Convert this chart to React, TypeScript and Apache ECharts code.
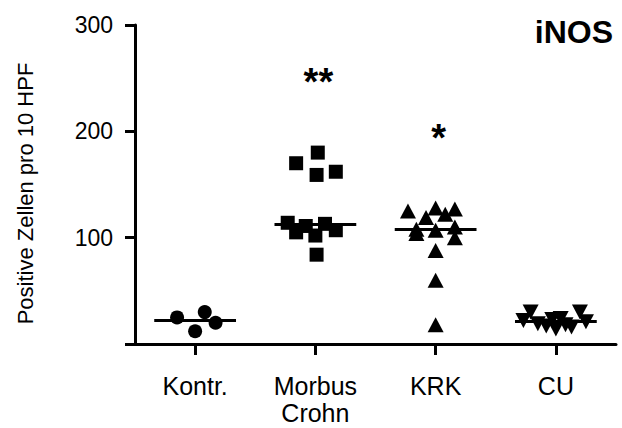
import { useEffect, useRef } from 'react';
import * as echarts from 'echarts';

// Groups along the x axis
const groups = ['Kontr.', 'Morbus\nCrohn', 'KRK', 'CU'];

// Positive cells per 10 HPF; the *Spread arrays give each point's sideways
// placement inside its column (in column widths, 0 = column centre)
const kontrValues = [25, 30, 20, 12];
const kontrSpread = [-0.15, 0.08, 0.17, 0];

const crohnValues = [180, 170, 159, 162, 114, 105, 111, 102, 113, 107, 84];
const crohnSpread = [0.02, -0.16, 0.01, 0.17, -0.23, -0.16, -0.08, 0, 0.08, 0.17, 0.01];

const krkValues = [125, 119, 128, 122, 127, 108, 104, 107, 110, 100, 88, 60, 18];
const krkSpread = [-0.23, -0.08, 0, 0.08, 0.16, -0.16, -0.16, 0, 0.16, 0.16, 0, 0, 0];

const cuValues = [30, 22, 19, 17, 23, 14, 24, 18, 16, 30, 21];
const cuSpread = [-0.21, -0.27, -0.15, -0.08, -0.03, 0, 0.04, 0.08, 0.13, 0.2, 0.25];

// Significance marks above each group
const significance = ['', '**', '*', ''];

// Y axis
const yTicks = [0, 100, 200, 300];
const yTitle = 'Positive Zellen pro 10 HPF';
const chartTitle = 'iNOS';

const FONT = '"Liberation Sans", Arial, Helvetica, sans-serif';

const median = (arr: number[]) => {
  const s = [...arr].sort((a, b) => a - b);
  const m = Math.floor(s.length / 2);
  return s.length % 2 ? s[m] : (s[m - 1] + s[m]) / 2;
};

export default function App() {
  const ref = useRef<HTMLDivElement>(null);

  useEffect(() => {
    if (!ref.current) return;
    const chart = echarts.init(ref.current, null, { renderer: 'svg' });

    const columns = [
      { values: kontrValues, spread: kontrSpread, symbol: 'circle', size: 14, rotate: 0 },
      { values: crohnValues, spread: crohnSpread, symbol: 'rect', size: 14, rotate: 0 },
      { values: krkValues, spread: krkSpread, symbol: 'triangle', size: [16, 15], rotate: 0 },
      { values: cuValues, spread: cuSpread, symbol: 'triangle', size: [16, 15], rotate: 180 },
    ];
    const halfLine = 0.34;
    const starLift = 66;

    const scatterSeries = columns.map((c, i) => {
      const pos = i + 1;
      const med = median(c.values);
      return {
        type: 'scatter',
        name: groups[i],
        data: c.values.map((v, j) => [pos + c.spread[j], v]),
        symbol: c.symbol,
        symbolSize: c.size,
        symbolRotate: c.rotate,
        itemStyle: { color: '#000', opacity: 1 },
        emphasis: { disabled: true },
        markLine: {
          silent: true,
          symbol: 'none',
          label: { show: false },
          emphasis: { disabled: true },
          lineStyle: { color: '#000', width: 3, type: 'solid' },
          data: [[{ coord: [pos - halfLine, med] }, { coord: [pos + halfLine, med] }]],
        },
      };
    });

    const starData = columns
      .map((c, i) => ({ i, mark: significance[i], top: Math.max(...c.values) }))
      .filter((d) => d.mark)
      .map((d) => ({ value: [d.i + 1, d.top + starLift], mark: d.mark }));

    chart.setOption({
      animation: false,
      backgroundColor: '#fff',
      textStyle: { fontFamily: FONT },
      title: {
        text: chartTitle,
        right: 4,
        top: 11,
        textStyle: { fontSize: 32, fontWeight: 'bold', color: '#000', fontFamily: FONT },
      },
      grid: { left: 135, right: 6, top: 25, bottom: 84, containLabel: false, outerBoundsMode: 'none' },
      xAxis: {
        type: 'value',
        min: 0.5,
        max: 4.5,
        splitLine: { show: false },
        axisLine: { show: true, onZero: false, lineStyle: { color: '#000', width: 3 } },
        axisTick: {
          show: true,
          customValues: [1, 2, 3, 4],
          inside: false,
          length: 11,
          lineStyle: { color: '#000', width: 3 },
        },
        axisLabel: {
          customValues: [1, 2, 3, 4],
          formatter: (v: number) => groups[Math.round(v) - 1] ?? '',
          color: '#000',
          fontSize: 25,
          lineHeight: 27,
          margin: 28,
          fontFamily: FONT,
        },
      },
      yAxis: {
        type: 'value',
        min: 0,
        max: 300,
        interval: 100,
        name: yTitle,
        nameLocation: 'middle',
        nameGap: 99,
        nameTextStyle: { fontSize: 22, color: '#000', fontFamily: FONT, padding: [0, 18, 0, 0] },
        splitLine: { show: false },
        axisLine: { show: true, onZero: false, lineStyle: { color: '#000', width: 3 } },
        axisTick: { show: true, inside: false, length: 10, lineStyle: { color: '#000', width: 3 } },
        axisLabel: {
          color: '#000',
          fontSize: 23,
          margin: 22,
          fontFamily: FONT,
          formatter: (v: number) => (v === 0 || !yTicks.includes(v) ? '' : String(v)),
        },
      },
      series: [
        ...scatterSeries,
        {
          type: 'scatter',
          name: 'significance',
          data: starData,
          symbolSize: 0,
          silent: true,
          label: {
            show: true,
            position: 'inside',
            offset: [3, 0],
            formatter: (p: any) => p.data.mark,
            color: '#000',
            opacity: 1,
            fontSize: 38,
            fontWeight: 'bold',
            fontFamily: FONT,
          },
        },
      ],
    });

    return () => chart.dispose();
  }, []);

  return (
    <div
      ref={ref}
      style={{ position: 'fixed', left: 0, top: 0, width: 622, height: 428, background: '#fff' }}
    />
  );
}
